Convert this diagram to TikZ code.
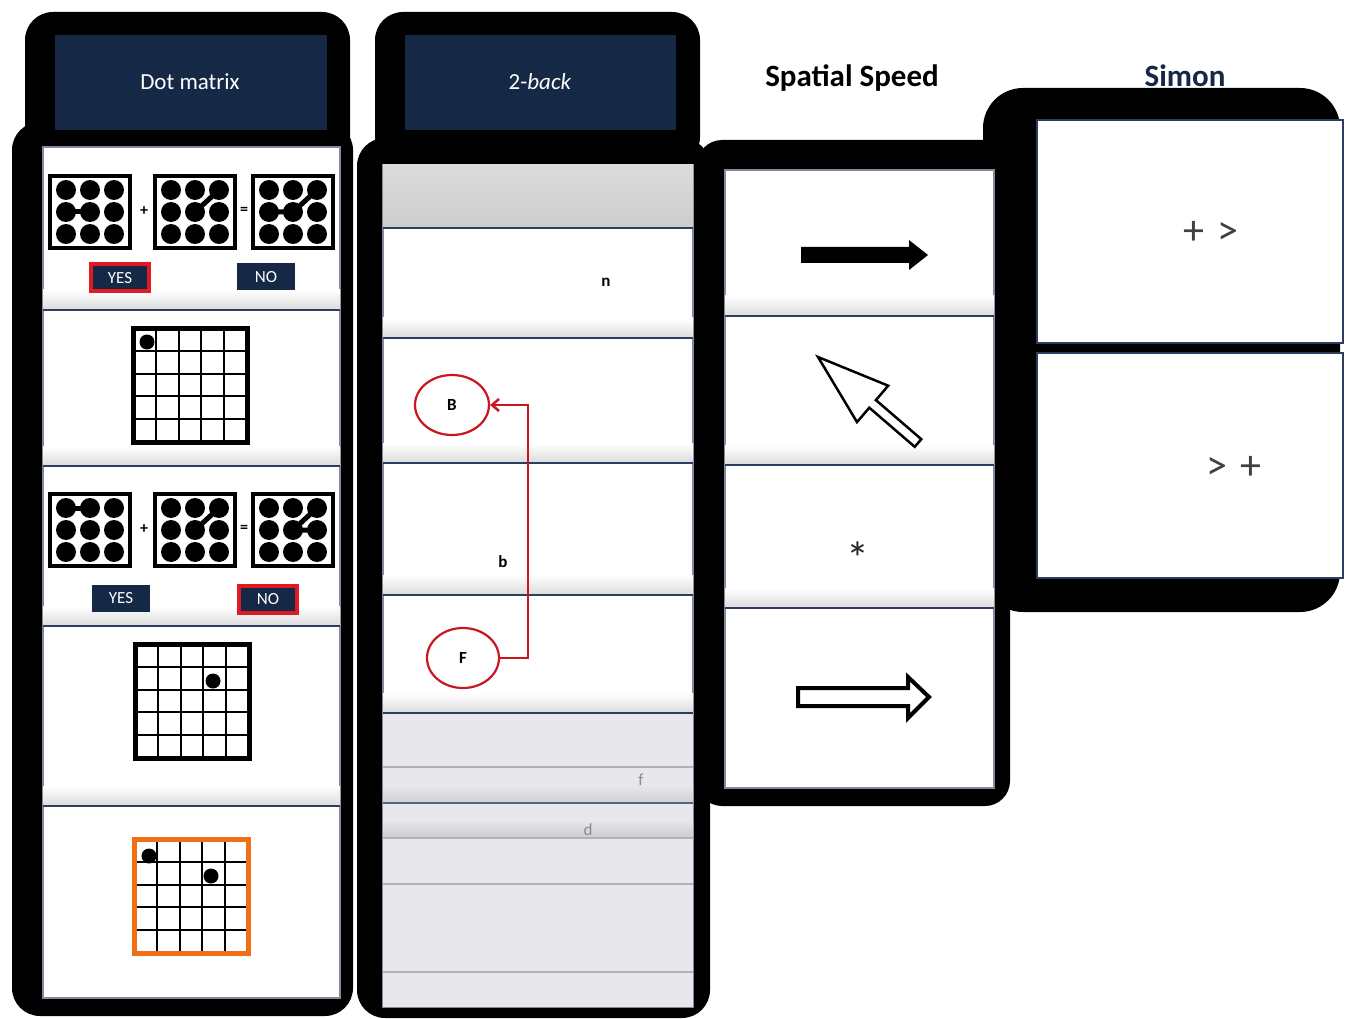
\documentclass[tikz,border=0pt]{standalone}
\usepackage{fontspec}
\setmainfont{Carlito}
\usetikzlibrary{arrows.meta,shapes.geometric}
\definecolor{navy}{RGB}{21,40,70}
\definecolor{rowline}{RGB}{45,60,95}
\definecolor{boxred}{RGB}{225,25,35}
\definecolor{dmorange}{RGB}{240,110,20}
\definecolor{lightrow}{RGB}{232,232,236}
\definecolor{headgray}{RGB}{220,220,222}
\newcommand{\dotmat}[3]{%
 \begin{scope}[shift={(#1,#2)}]
  \draw[line width=4.5] (0,0) rectangle (80,72);
  \foreach \i in {0,1,2} \foreach \j in {0,1,2} \fill (16+24*\i,14+22*\j) circle (10);
  \draw[line width=5] #3;
 \end{scope}}
\newcommand{\gridmat}[3]{%
 \begin{scope}[shift={(#1,#2)}]
  \foreach \k in {1,...,4} {\draw[line width=2] (\k*22.8,0) -- (\k*22.8,114); \draw[line width=2] (0,\k*22.8) -- (114,\k*22.8);}
  \draw[line width=5,draw=#3] (0,0) rectangle (114,114);
 \end{scope}}
\newcommand{\rowshade}[3]{\shade[top color=white,bottom color=black!14] (#1,#3-20) rectangle (#2,#3);}
\tikzset{
 blackpanel/.style={fill=black,rounded corners=28},
 header/.style={fill=navy},
 headtext/.style={text=white,font=\fontsize{23}{27}\selectfont},
 rowsep/.style={draw=rowline,line width=1.6},
 lightsep/.style={draw=black!30,line width=1.2},
 yesno/.style={fill=navy,text=white,font=\fontsize{17}{20}\selectfont,inner sep=0pt,minimum height=27,minimum width=58},
 redframe/.style={draw=boxred,line width=4},
 letter/.style={font=\bfseries\fontsize{17}{20}\selectfont},
 faint/.style={text=black!45,font=\fontsize{17}{20}\selectfont},
 circ/.style={ellipse,draw=boxred!90!black,line width=2.2,inner sep=0pt},
 title/.style={font=\bfseries\fontsize{31}{36}\selectfont},
 simontext/.style={text=black!75,font=\fontsize{42}{48}\selectfont},
 opsign/.style={font=\bfseries\fontsize{16}{18}\selectfont}
}
\begin{document}
\begin{tikzpicture}[x=1pt,y=-1pt]
\useasboundingbox[fill=white] (0,0) rectangle (1353,1019);
% ---------- column 1: Dot matrix ----------
\fill[blackpanel] (25,12) rectangle (350,165);
\fill[blackpanel] (12,122) rectangle (353,1016);
\fill[header] (55,35) rectangle (327,130);
\node[headtext] (dmtitle) at (190,82) {Dot matrix};
\filldraw[fill=white,draw=rowline!60,line width=1.5] (43,147) rectangle (340,998);
\rowshade{43}{340}{310}
\rowshade{43}{340}{466}
\rowshade{43}{340}{626}
\rowshade{43}{340}{806}
\draw[rowsep] (43,310) -- (340,310);
\draw[rowsep] (43,466) -- (340,466);
\draw[rowsep] (43,626) -- (340,626);
\draw[rowsep] (43,806) -- (340,806);
% row 1
\dotmat{50}{176}{(16,36) -- (40,36)}
\dotmat{155}{176}{(40,36) -- (64,14)}
\dotmat{253}{176}{(16,36) -- (40,36) -- (64,14)}
\node[opsign] (plusA) at (144,211) {+};
\node[opsign] (eqA) at (244,211) {=};
\node[yesno,redframe] (yesA) at (120,278) {YES};
\node[yesno] (noA) at (266,277) {NO};
% row 2
\gridmat{133}{328}{black}
\fill (147,342) circle (7.5);
% row 3
\dotmat{50}{494}{(16,14) -- (40,14)}
\dotmat{155}{494}{(40,36) -- (64,14)}
\dotmat{253}{494}{(64,14) -- (40,36) -- (64,36)}
\node[opsign] (plusB) at (144,529) {+};
\node[opsign] (eqB) at (244,529) {=};
\node[yesno] (yesB) at (121,598) {YES};
\node[yesno,redframe] (noB) at (268,599) {NO};
% row 4
\gridmat{135}{644}{black}
\fill (213,681) circle (7.5);
% row 5
\gridmat{134}{839}{dmorange}
\fill (149,856) circle (7.5);
\fill (211,876) circle (7.5);
% ---------- column 2: 2-back ----------
\fill[blackpanel] (375,12) rectangle (700,165);
\fill[blackpanel] (357,138) rectangle (710,1018);
\fill[header] (405,35) rectangle (676,130);
\node[headtext] (nbtitle) at (540,82) {2-\textit{back}};
\filldraw[fill=white,draw=rowline!60,line width=1.5] (383,165) rectangle (693,1007);
\shade[top color=headgray,bottom color=black!20] (383,165) rectangle (693,228);
\rowshade{383}{693}{338}
\rowshade{383}{693}{463}
\rowshade{383}{693}{595}
\rowshade{383}{693}{713}
\fill[lightrow] (383,713) rectangle (693,1007);
\shade[top color=lightrow,bottom color=black!18] (383,785) rectangle (693,803);
\shade[top color=lightrow,bottom color=black!20] (383,820) rectangle (693,838);
\draw[rowsep] (383,228) -- (693,228);
\draw[rowsep] (383,338) -- (693,338);
\draw[rowsep] (383,463) -- (693,463);
\draw[rowsep] (383,595) -- (693,595);
\draw[rowsep] (383,713) -- (693,713);
\draw[lightsep] (383,767) -- (693,767);
\draw[rowsep,draw=rowline!80] (383,803) -- (693,803);
\draw[lightsep] (383,838) -- (693,838);
\draw[lightsep] (383,884) -- (693,884);
\draw[lightsep] (383,972) -- (693,972);
\node[letter] (n) at (606,282) {n};
\node[circ,minimum width=74,minimum height=60] (B) at (452,405) {\bfseries\fontsize{17}{20}\selectfont B};
\node[letter] (b) at (503,562) {b};
\node[circ,minimum width=72,minimum height=60] (F) at (463,658) {\bfseries\fontsize{17}{20}\selectfont F};
\node[faint] (f) at (641,780) {f};
\node[faint] (d) at (588,830) {d};
\draw[boxred!90!black,line width=2.5,-{Straight Barb[length=7,width=12]}] (F.east) -- (528,658) |- (B.east);
% ---------- column 4 backdrop: Simon ----------
\fill[blackpanel,rounded corners=40] (983,88) rectangle (1340,612);
% ---------- column 3: Spatial Speed ----------
\node[title] (sstitle) at (852,78) {Spatial Speed};
\fill[blackpanel,rounded corners=25] (697,140) rectangle (1010,806);
\filldraw[fill=white,draw=rowline!60,line width=1.5] (725,170) rectangle (994,788);
\rowshade{725}{994}{316}
\rowshade{725}{994}{465}
\rowshade{725}{994}{608}
\draw[rowsep] (725,316) -- (994,316);
\draw[rowsep] (725,465) -- (994,465);
\draw[rowsep] (725,608) -- (994,608);
\fill (801,247) -- (909,247) -- (909,240) -- (928,255) -- (909,270) -- (909,263) -- (801,263) -- cycle;
\filldraw[fill=white,draw=black,line width=2.5,line join=miter] (818,357) -- (888.2,385.7) -- (875.9,400.1) -- (921.3,439.2) -- (914.7,446.8) -- (869.3,407.7) -- (857,422.1) -- cycle;
\node[font=\fontsize{46}{52}\selectfont,text=black!85] (star) at (858,558) {*};
\filldraw[fill=white,draw=black,line width=4,line join=miter] (798,688) -- (908,688) -- (908,677) -- (929,697) -- (908,718) -- (908,706) -- (798,706) -- cycle;
% ---------- column 4 panels: Simon ----------
\filldraw[fill=white,draw=rowline,line width=1.5] (1037,120) rectangle (1343,343);
\filldraw[fill=white,draw=rowline,line width=1.5] (1037,353) rectangle (1343,578);
\node[title,text=navy] (simtitle) at (1185,76) {Simon};
\node[simontext] (s1) at (1211,233) {+\,\,>};
\node[simontext] (s2) at (1234,468) {>\,\,+};
\end{tikzpicture}
\end{document}
